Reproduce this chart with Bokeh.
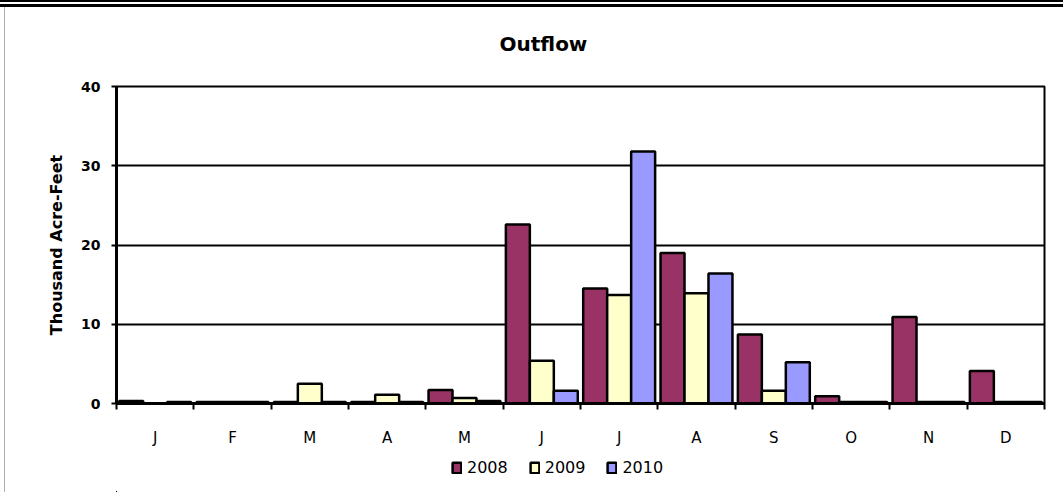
from bokeh.plotting import figure
from bokeh.layouts import column
from bokeh.models import Range1d, FixedTicker, Legend, LegendItem, ColumnDataSource
from bokeh.embed import file_html
from bokeh.resources import INLINE

# Monthly outflow, thousand acre-feet
months = ["J", "F", "M", "A", "M", "J", "J", "A", "S", "O", "N", "D"]
years = ["2008", "2009", "2010"]
outflow_2008 = [0.3, 0.2, 0.2, 0.2, 1.7, 22.6, 14.5, 19.0, 8.7, 0.9, 10.9, 4.1]
outflow_2009 = [0.0, 0.2, 2.5, 1.1, 0.7, 5.4, 13.7, 13.9, 1.6, 0.2, 0.2, 0.2]
outflow_2010 = [0.2, 0.2, 0.2, 0.2, 0.3, 1.6, 31.8, 16.4, 5.2, 0.2, 0.2, 0.2]
y_ticks = [0, 10, 20, 30, 40]

colors = ["#993366", "#FFFFCC", "#9999FF"]
FONT = "DejaVu Sans"

W = 1063
H_CHART, H_LEGEND = 449, 43
FL, FR, FT, FB = 116, 1044, 86, 403

p = figure(width=W, height=H_CHART, x_range=Range1d(0, 12), y_range=Range1d(0, 40),
           title="Outflow", output_backend="svg", toolbar_location=None,
           min_border_left=FL, min_border_right=W - FR,
           min_border_top=FT, min_border_bottom=H_CHART - FB)
p.background_fill_color = "white"
p.border_fill_alpha = 0
p.outline_line_color = "black"
p.outline_line_width = 2

# page frame: double rule along the top, thin grey rule on the left
p.styles = {
    "background": ("linear-gradient(#000,#000) 0 0 / 100% 2px no-repeat, "
                   "linear-gradient(#000,#000) 0 3.5px / 100% 3px no-repeat, "
                   "linear-gradient(#b0b0b0,#b0b0b0) 4px 7px / 1px 100% no-repeat, "
                   "#ffffff"),
}

# title
p.title.align = "left"
p.title.vertical_align = "middle"
p.title.offset = 383
p.title.standoff = 60
p.title.text_font = FONT
p.title.text_font_style = "bold"
p.title.text_font_size = "20px"
p.title.text_color = "black"

# grouped bars
bar_w = 0.31
offsets = [-bar_w, 0.0, bar_w]
sources = []
for series, color, off in zip([outflow_2008, outflow_2009, outflow_2010], colors, offsets):
    src = ColumnDataSource(dict(x=[i + 0.5 + off for i in range(len(months))], top=series))
    sources.append(src)
    p.vbar(x="x", top="top", width=bar_w, source=src, fill_color=color,
           line_color="black", line_width=2.5)

# y axis
p.yaxis.ticker = FixedTicker(ticks=y_ticks)
p.yaxis.axis_line_width = 3
p.yaxis.major_tick_out = 5
p.yaxis.major_tick_in = 0
p.yaxis.major_tick_line_width = 2
p.yaxis.minor_tick_line_color = None
p.yaxis.major_label_text_font = FONT
p.yaxis.major_label_text_font_style = "bold"
p.yaxis.major_label_text_font_size = "14px"
p.yaxis.major_label_text_color = "black"
p.yaxis.major_label_standoff = 11
p.yaxis.axis_label = "Thousand Acre-Feet"
p.yaxis.axis_label_text_font = FONT
p.yaxis.axis_label_text_font_style = "bold"
p.yaxis.axis_label_text_font_size = "16px"
p.yaxis.axis_label_text_color = "black"
p.yaxis.axis_label_standoff = 12

# x axis: labels at month centres, ticks at month boundaries
centres = [i + 0.5 for i in range(len(months))]
p.xaxis.ticker = FixedTicker(ticks=centres, minor_ticks=list(range(len(months) + 1)))
p.xaxis.major_label_overrides = {c: m for c, m in zip(centres, months)}
p.xaxis.axis_line_width = 3
p.xaxis.major_tick_out = 0
p.xaxis.major_tick_in = 0
p.xaxis.minor_tick_out = 6
p.xaxis.minor_tick_in = 0
p.xaxis.minor_tick_line_color = "black"
p.xaxis.minor_tick_line_width = 2
p.xaxis.major_label_text_font = FONT
p.xaxis.major_label_text_font_size = "15px"
p.xaxis.major_label_text_color = "black"
p.xaxis.major_label_standoff = 19

p.xgrid.grid_line_color = None
p.ygrid.ticker = FixedTicker(ticks=y_ticks)
p.ygrid.grid_line_color = "black"
p.ygrid.grid_line_width = 2

# legend strip under the chart; its key renderers share the bar sources but
# their ranges keep the bars far outside the strip, so only the legend shows
lg = figure(width=W, height=H_LEGEND, x_range=Range1d(1000, 1012),
            y_range=Range1d(1000, 1000 + H_LEGEND),
            x_axis_location=None, y_axis_location=None,
            output_backend="svg", toolbar_location=None,
            min_border_left=0, min_border_right=0, min_border_top=0, min_border_bottom=0)
lg.grid.grid_line_color = None
lg.outline_line_color = None
lg.background_fill_alpha = 0
lg.border_fill_alpha = 0
lg.styles = {"background": ("linear-gradient(#b0b0b0,#b0b0b0) 4px 0 / 1px 100% no-repeat, "
                            "#ffffff")}

keys = []
for src, color in zip(sources, colors):
    keys.append(lg.vbar(x="x", top="top", width=bar_w, source=src, fill_color=color,
                        line_color="black", line_width=2.5))

legend = Legend(items=[LegendItem(label=y, renderers=[r]) for y, r in zip(years, keys)],
                orientation="horizontal", location=(335, 15))
legend.glyph_width = 11
legend.glyph_height = 13
legend.label_standoff = 5
legend.spacing = 21
legend.padding = 0
legend.margin = 0
legend.border_line_color = None
legend.background_fill_alpha = 0
legend.label_text_font = FONT
legend.label_text_font_size = "16px"
legend.label_text_color = "black"
lg.add_layout(legend)

page = column(p, lg, spacing=0)
open("out.html", "w").write(file_html(page, INLINE))
